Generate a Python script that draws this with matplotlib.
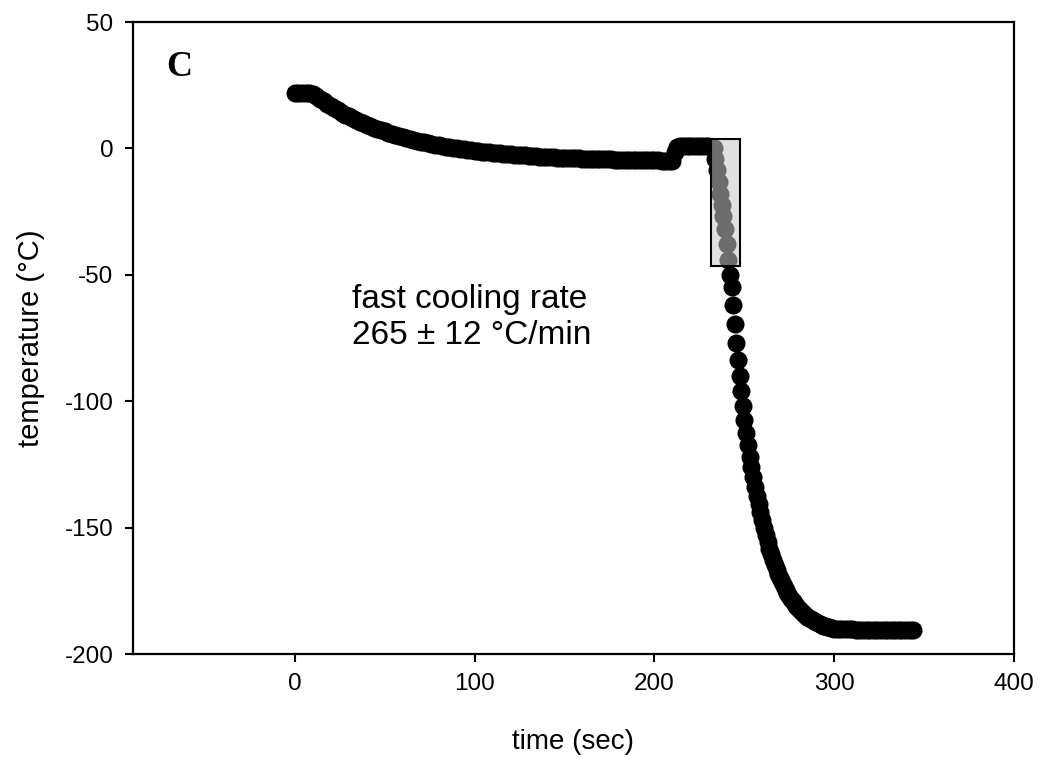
import matplotlib.pyplot as plt
import numpy as np
from matplotlib.patches import Rectangle

# warm-up / chilling phase, sampled every 2 s
warm_t = np.arange(0, 212, 2)
warm_T = [22.0, 22.0, 22.0, 22.0, 21.9, 21.4, 20.6, 19.6, 18.6, 17.6,
          16.7, 15.8, 15.0, 14.2, 13.4, 12.7, 12.0, 11.3, 10.6, 10.0,
          9.4, 8.8, 8.2, 7.7, 7.2, 6.7, 6.2, 5.8, 5.3, 4.9,
          4.5, 4.1, 3.7, 3.4, 3.0, 2.7, 2.4, 2.1, 1.8, 1.5,
          1.2, 1.0, 0.7, 0.5, 0.3, 0.0, -0.2, -0.4, -0.6, -0.8,
          -0.9, -1.1, -1.3, -1.4, -1.6, -1.7, -1.9, -2.0, -2.1, -2.3,
          -2.4, -2.5, -2.6, -2.7, -2.8, -2.9, -3.0, -3.1, -3.2, -3.3,
          -3.3, -3.4, -3.5, -3.6, -3.6, -3.7, -3.8, -3.8, -3.9, -3.9,
          -4.0, -4.0, -4.1, -4.1, -4.2, -4.2, -4.3, -4.3, -4.3, -4.4,
          -4.4, -4.4, -4.5, -4.5, -4.5, -4.6, -4.6, -4.6, -4.7, -4.7,
          -4.7, -4.7, -4.8, -4.8, -4.8, -4.8]

# short plateau after the sample is moved
plat_t = [211.5, 212.5, 214, 216, 218, 220, 222, 224, 226, 228, 230, 232]
plat_T = [-1.5, 0.6, 0.8, 0.8, 0.8, 0.8, 0.8, 0.8, 0.8, 0.8, 0.8, 0.6]

# fast cooling
cool_t = [233.0, 233.9, 234.8, 235.7, 236.6, 237.5, 238.4, 239.3, 240.2, 241.1,
          242.0, 242.9, 243.8, 244.7, 245.6, 246.5, 247.4, 248.3, 249.2, 250.1,
          251, 252, 253, 254, 255, 256, 257, 258, 259, 260,
          261, 262, 263, 264, 265, 266, 267, 268, 269, 270,
          271, 272, 273, 274, 275, 276, 277, 278, 279, 280,
          281, 282, 283, 284, 285, 286, 287, 288, 289, 290,
          291, 292, 293, 294, 295, 296, 297, 298, 299, 300]
cool_T = [0.0, -4.0, -8.4, -13.2, -18.0, -22.3, -26.6, -32.0, -38.0, -44.0,
          -50.0, -55.0, -62.0, -69.5, -77.0, -83.5, -90.0, -96.0, -102.0, -107.6,
          -112.5, -117.5, -122.0, -126.0, -130.0, -133.8, -137.4, -140.8, -144.0, -147.0,
          -150.0, -153.0, -155.8, -158.3, -160.6, -162.7, -164.7, -166.6, -168.4, -170.1,
          -171.7, -173.2, -174.6, -175.9, -177.1, -178.2, -179.2, -180.1, -181.0, -181.8,
          -182.6, -183.3, -184.0, -184.6, -185.2, -185.7, -186.2, -186.7, -187.1, -187.5,
          -187.9, -188.2, -188.5, -188.8, -189.1, -189.3, -189.5, -189.7, -189.9, -190.0]

# liquid nitrogen plateau
cold_t = np.arange(302, 346, 2)
cold_T = [-190.1, -190.1, -190.2, -190.2, -190.2, -190.3, -190.3, -190.3, -190.3, -190.3, -190.4,
          -190.4, -190.4, -190.4, -190.4, -190.4, -190.4, -190.5, -190.5, -190.5, -190.5, -190.5]

# highlighted window of the cooling ramp
box_t = (231.5, 247.8)
box_T = (-46.7, 3.6)

plt.rcParams['font.family'] = ['Liberation Sans', 'DejaVu Sans']
plt.rcParams['axes.unicode_minus'] = False

fig = plt.figure(figsize=(10.42, 7.59), dpi=100)
ax = fig.add_axes([0.1276, 0.1383, 0.8455, 0.8327])

t_all = np.concatenate([warm_t, plat_t, cool_t, cold_t])
T_all = np.concatenate([warm_T, plat_T, cool_T, cold_T])
ax.plot(t_all, T_all, 'o', color='black', markersize=13, markeredgewidth=0)

ax.add_patch(Rectangle((box_t[0], box_T[0]), box_t[1] - box_t[0], box_T[1] - box_T[0],
                       facecolor=(0.78, 0.78, 0.78, 0.55), edgecolor='black',
                       linewidth=1.5, zorder=5))

ax.set_xlim(-90, 400)
ax.set_ylim(-200, 50)
ax.set_xticks([0, 100, 200, 300, 400])
ax.set_yticks([-200, -150, -100, -50, 0, 50])

for s in ax.spines.values():
    s.set_linewidth(1.6)
ax.tick_params(direction='out', length=6, width=1.5, labelsize=17.5, pad=8)

ax.set_xlabel('time (sec)', fontsize=20, labelpad=24)
ax.set_ylabel('temperature (°C)', fontsize=21, labelpad=14)

ax.text(-64.5, 32, 'C', family='Liberation Serif', fontweight='bold',
        fontsize=26, ha='center', va='center')
ax.text(32, -67, 'fast cooling rate\n265 ± 12 °C/min', fontsize=24,
        ha='left', va='center', linespacing=1.2)

fig.savefig('out.png', dpi=100)
